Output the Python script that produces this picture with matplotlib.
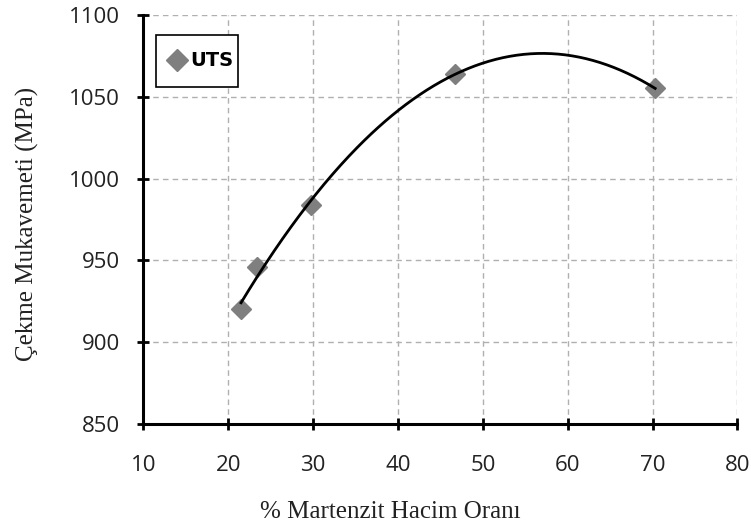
import numpy as np
import matplotlib
matplotlib.use("Agg")
import matplotlib.pyplot as plt
from matplotlib.patches import Rectangle

# Martensite volume fraction (%) and ultimate tensile strength (MPa)
martensite = [21.5, 23.4, 29.7, 46.7, 70.3]
uts = [920, 946, 984, 1064, 1055]

x_ticks = [10, 20, 30, 40, 50, 60, 70, 80]
y_ticks = [850, 900, 950, 1000, 1050, 1100]

fig = plt.figure(figsize=(7.51, 5.30), dpi=100)
ax = fig.add_axes([0.191, 0.200, 0.791, 0.772])

# second-order polynomial trend line through the measurements
coef = np.polyfit(martensite, uts, 2)
xs = np.linspace(min(martensite), max(martensite), 300)
ax.plot(xs, np.polyval(coef, xs), color="black", lw=2.0, zorder=3)

ax.plot(martensite, uts, linestyle="none", marker="D", markersize=10,
        color="#7f7f7f", markeredgecolor="#7f7f7f", label="UTS", zorder=2)

ax.set_xlim(10, 80)
ax.set_ylim(850, 1100)
ax.set_xticks(x_ticks)
ax.set_yticks(y_ticks)

ax.grid(True, color="#b0b0b0", linestyle=(0, (4, 3)), lw=1.0)
for side in ("top", "right"):
    ax.spines[side].set_visible(False)
for side in ("left", "bottom"):
    ax.spines[side].set_linewidth(2.2)
    ax.spines[side].set_color("black")
ax.tick_params(direction="inout", length=8, width=2, color="black",
               labelsize=16)
ax.tick_params(axis="y", pad=13)
ax.tick_params(axis="x", pad=18)
for lbl in ax.get_xticklabels() + ax.get_yticklabels():
    lbl.set_fontfamily("Open Sans")
    lbl.set_color("#222222")

ax.set_xlabel("% Martenzit Hacim Oranı", family="Liberation Serif",
              fontsize=18, color="#222222")
ax.set_ylabel("Çekme Mukavemeti (MPa)", family="Liberation Serif",
              fontsize=18, color="#222222")
ax.xaxis.set_label_coords(0.416, -0.187)
ax.yaxis.set_label_coords(-0.176, 0.490)

# legend box: a plain rectangle frame with the legend entry centred inside
box_x0, box_x1 = 0.021, 0.159
box_y0, box_y1 = 0.824, 0.951
ax.add_patch(Rectangle((box_x0, box_y0), box_x1 - box_x0, box_y1 - box_y0,
                       transform=ax.transAxes, facecolor="white",
                       edgecolor="black", lw=1.2, zorder=4))
leg = ax.legend(loc="center left",
                bbox_to_anchor=(box_x0, (box_y0 + box_y1) / 2),
                borderaxespad=0, frameon=False,
                handlelength=1.75, handletextpad=-0.2,
                borderpad=0.2, markerscale=1.1,
                prop={"family": "DejaVu Sans", "weight": "bold", "size": 14})
leg.set_zorder(5)

fig.savefig("out.png", dpi=100)
